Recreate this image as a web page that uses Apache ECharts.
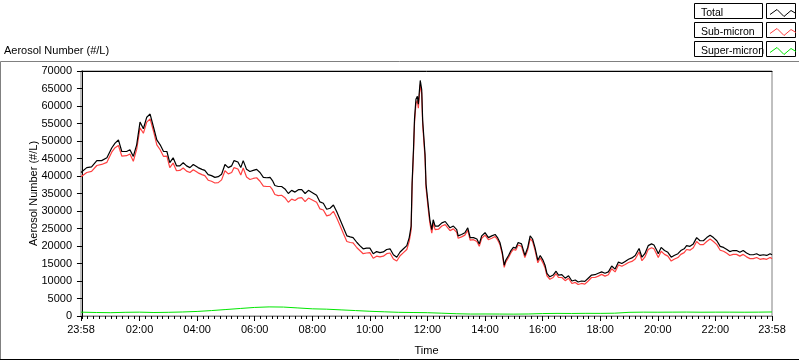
<!DOCTYPE html>
<html lang="en">
<head>
    <meta charset="UTF-8">
    <title>Aerosol Number</title>
    <script src="https://cdn.jsdelivr.net/npm/echarts@6/dist/echarts.min.js" charset="utf-8"></script>
    <style>
        html, body {margin: 0; padding: 0; background: #fff;}
        #main {width: 800px; height: 361px;}
    </style>
</head>
<body>
<div id="main"></div>
<script>
    // minutes after 00:00 (23:58 of the previous day = -2)
    var minutes = [-2, 10, 20, 31, 41, 52, 62, 69, 76, 83, 93, 100, 107, 114, 121, 128, 135, 142, 145, 150,
        156, 163, 170, 177, 183, 190, 197, 204, 211, 218, 225, 232, 242, 250, 256, 263, 270, 277, 284, 291,
        298, 305, 312, 317, 325, 331, 336, 343, 350, 357, 364, 371, 378, 385, 392, 397, 402, 409, 416, 423,
        430, 437, 444, 451, 458, 465, 472, 482, 489, 496, 503, 510, 517, 524, 531, 538, 545, 552, 559, 565,
        573, 579, 586, 593, 600, 607, 614, 621, 628, 635, 642, 649, 656, 663, 670, 677, 682, 686, 688, 691,
        693, 696, 699, 701, 703, 705, 708, 710, 713, 715, 717, 722, 725, 729, 732, 736, 743, 750, 757, 761,
        767, 774, 781, 784, 791, 798, 804, 809, 816, 823, 828, 833, 840, 847, 854, 861, 866, 871, 876, 880,
        883, 889, 894, 899, 904, 909, 916, 923, 929, 934, 939, 944, 950, 955, 961, 965, 969, 975, 982, 988,
        993, 1000, 1007, 1014, 1021, 1028, 1034, 1041, 1048, 1055, 1062, 1069, 1076, 1083, 1090, 1097, 1104, 1111, 1118, 1125,
        1132, 1139, 1146, 1153, 1157, 1161, 1167, 1173, 1180, 1187, 1192, 1198, 1201, 1207, 1214, 1221, 1228, 1234, 1242, 1248,
        1255, 1260, 1267, 1274, 1281, 1288, 1295, 1302, 1309, 1316, 1323, 1330, 1337, 1344, 1350, 1357, 1364, 1371, 1378, 1385,
        1392, 1399, 1406, 1413, 1420, 1427, 1434, 1438];

    var total = [41000, 42400, 42600, 44400, 44400, 45200, 48000, 49400, 50300, 47000, 47000, 47500, 45600, 48900, 55400, 53500, 56800, 57700, 58200, 53500,
        50300, 48900, 47000, 47000, 43800, 45200, 42900, 42900, 43800, 42900, 42400, 43300, 42400, 41900, 41600, 40400, 40100, 39600, 39800, 40500,
        43300, 42400, 42900, 44400, 44000, 42400, 44400, 41900, 41300, 41600, 41900, 41000, 39600, 39500, 39600, 38700, 37300, 37000, 37000, 36300,
        35000, 35900, 35400, 36100, 36100, 35000, 35900, 35100, 34500, 32600, 32200, 30500, 30800, 31700, 29800, 27500, 25200, 22900, 22600, 22400,
        21000, 20100, 19200, 19400, 19400, 17800, 18400, 18100, 18300, 19000, 19200, 17500, 16800, 18300, 19200, 20100, 22400, 25700, 38000, 48000,
        56300, 61900, 62800, 60500, 64000, 67300, 64700, 55900, 50000, 46100, 37700, 31200, 27500, 24700, 27500, 25700, 25700, 26600, 27000, 27500,
        25200, 25700, 24700, 22900, 23300, 23800, 25200, 22400, 22400, 22000, 20600, 22900, 23800, 22400, 22900, 23300, 22400, 21000, 18200, 14500,
        15900, 17300, 18700, 19600, 19400, 21000, 20600, 17300, 19600, 22900, 22000, 19600, 15900, 17300, 15900, 14500, 12200, 11200, 11700, 12800,
        11700, 11800, 10800, 11500, 10000, 10300, 9700, 10000, 9900, 10800, 11700, 11800, 12200, 12600, 12200, 12600, 14300, 13400, 15400, 15000,
        15600, 16200, 16600, 17300, 17800, 19300, 16800, 17800, 20100, 20600, 20300, 18700, 17800, 19600, 18700, 18200, 16800, 17300, 17800, 18700,
        19200, 20100, 19900, 20600, 22400, 21500, 21500, 22400, 23100, 22400, 21500, 19900, 19600, 19000, 18400, 18700, 18700, 18200, 18700, 18000,
        17500, 17500, 17800, 17300, 17500, 17300, 17800, 17500];

    var subMicron = [39800, 41000, 41300, 43000, 43300, 43900, 46800, 48100, 48700, 45700, 45800, 46300, 44200, 47600, 53800, 52200, 55400, 56300, 56800, 52300,
        48900, 47500, 45600, 45700, 42400, 43700, 41500, 41600, 42300, 41400, 41000, 41800, 40900, 40400, 40100, 38800, 38500, 38000, 38100, 38900,
        41500, 40600, 41000, 42400, 42000, 40300, 42300, 39700, 39000, 39300, 39500, 38500, 37100, 37000, 37000, 36100, 34700, 34400, 34500, 33800,
        32500, 33400, 33000, 33700, 33800, 32700, 33700, 33000, 32500, 30600, 30300, 28600, 28900, 29900, 28000, 25800, 23500, 21300, 21000, 20900,
        19500, 18700, 17800, 18000, 18100, 16500, 17100, 16900, 17100, 17800, 18000, 16300, 15700, 17200, 18100, 19000, 21300, 24600, 36900, 46900,
        55100, 60700, 61600, 59400, 62800, 66100, 63600, 54800, 48900, 45000, 36600, 30100, 26500, 23700, 26500, 24700, 24800, 25700, 26100, 26600,
        24400, 24900, 23900, 22200, 22600, 23100, 24500, 21700, 21800, 21300, 19900, 22200, 23100, 21800, 22200, 22700, 21800, 20400, 17600, 13900,
        15300, 16700, 18100, 19000, 18800, 20300, 19900, 16700, 18900, 22100, 21300, 18900, 15200, 16600, 15100, 13800, 11500, 10500, 11000, 12100,
        11000, 11000, 10100, 10800, 9300, 9600, 9000, 9300, 9100, 10000, 11000, 11000, 11400, 11900, 11400, 11800, 13500, 12600, 14600, 14200,
        14700, 15300, 15600, 16300, 16800, 18300, 15800, 16800, 19000, 19500, 19200, 17600, 16700, 18500, 17600, 17100, 15700, 16200, 16700, 17600,
        18100, 19000, 18800, 19500, 21300, 20400, 20400, 21300, 22000, 21300, 20400, 18800, 18500, 17900, 17300, 17600, 17600, 17100, 17600, 16900,
        16400, 16400, 16700, 16200, 16400, 16200, 16700, 16400];

    var superMinutes = [-2, 30, 60, 90, 120, 150, 180, 210, 240, 270, 300, 330, 360, 390, 420, 450, 480, 510, 540, 570,
        600, 630, 660, 690, 720, 750, 780, 810, 840, 870, 900, 930, 960, 990, 1020, 1050, 1080, 1110, 1140, 1170,
        1200, 1230, 1260, 1290, 1320, 1350, 1380, 1410, 1438];
    var superMicron = [1100, 1000, 950, 1050, 1100, 1000, 1050, 1150, 1300, 1550, 1850, 2150, 2450, 2600, 2550, 2300, 2050, 1950, 1750, 1550,
        1350, 1200, 1050, 1000, 950, 800, 650, 560, 580, 560, 540, 580, 700, 750, 720, 760, 750, 800, 1050, 1100,
        1080, 1100, 1120, 1080, 1100, 1100, 1080, 1100, 1150];

    var seriesNames = ['Total', 'Sub-micron', 'Super-micron'];
    var seriesColors = ['#000000', '#ff4040', '#00e600'];
    var majorTicks = [-2, 120, 240, 360, 480, 600, 720, 840, 960, 1080, 1200, 1320, 1438];
    var yTicks = [0, 5000, 10000, 15000, 20000, 25000, 30000, 35000, 40000, 45000, 50000, 55000, 60000, 65000, 70000];

    var font = 'Liberation Sans, Arial, sans-serif';

    function pairs(xs, ys) {
        var out = [];
        for (var i = 0; i < xs.length; i++) {
            out.push([xs[i], ys[i]]);
        }
        return out;
    }

    function clock(v) {
        var m = ((Math.round(v) % 1440) + 1440) % 1440;
        var h = Math.floor(m / 60), mm = m % 60;
        return (h < 10 ? '0' : '') + h + ':' + (mm < 10 ? '0' : '') + mm;
    }

    var minorTicks = [];
    for (var t = 0; t <= 1438; t += 12) {
        minorTicks.push(t);
    }

    var myChart = echarts.init(document.getElementById('main'));

    // legend boxes, LabVIEW style
    var boxes = [];
    for (var r = 0; r < 3; r++) {
        boxes.push({type: 'rect', shape: {x: 694.5, y: 3.5 + r * 19, width: 68, height: 15}, style: {fill: 'none', stroke: '#000', lineWidth: 1}, z: 0});
        boxes.push({type: 'rect', shape: {x: 766.5, y: 3.5 + r * 19, width: 29, height: 15}, style: {fill: 'none', stroke: '#000', lineWidth: 1}, z: 0});
    }
    // outer frame
    boxes.push({type: 'polyline', shape: {points: [[0.5, 360], [0.5, 61.5], [799, 61.5]]}, style: {stroke: '#808080', fill: 'none', lineWidth: 1}});
    boxes.push({type: 'line', shape: {x1: 0, y1: 359.5, x2: 799, y2: 359.5}, style: {stroke: '#000', lineWidth: 1}});

    var option = {
        animation: false,
        backgroundColor: '#fff',
        textStyle: {fontFamily: font},
        title: {
            text: 'Aerosol Number (#/L)',
            left: 4,
            top: 45,
            padding: 0,
            textStyle: {fontFamily: font, fontSize: 11, fontWeight: 'normal', color: '#000'}
        },
        legend: {
            orient: 'vertical',
            left: 696,
            top: 2,
            align: 'right',
            itemWidth: 26,
            itemHeight: 12,
            itemGap: 7,
            icon: 'path://M0,7L7,2L14,9L21,3L26,6',
            formatter: function (name) { return '{n|' + name + '}'; },
            textStyle: {
                fontFamily: font, fontSize: 11, color: '#000', lineHeight: 12,
                rich: {n: {width: 64, align: 'left', fontFamily: font, fontSize: 10.5, color: '#000'}}
            },
            data: seriesNames.map(function (n, i) {
                return {name: n, itemStyle: {color: 'none', borderColor: seriesColors[i], borderWidth: 1}};
            })
        },
        graphic: boxes,
        grid: {
            left: 81,
            top: 71,
            right: 28,
            bottom: 39,
            show: true,
            borderColor: '#808080',
            borderWidth: 1,
            backgroundColor: '#fff'
        },
        xAxis: [{
            type: 'value',
            min: -2,
            max: 1438,
            position: 'bottom',
            axisLine: {lineStyle: {color: '#808080', width: 1}},
            axisTick: {customValues: minorTicks, length: 3, lineStyle: {color: '#000'}},
            axisLabel: {show: false},
            splitLine: {show: false}
        }, {
            type: 'value',
            min: -2,
            max: 1438,
            position: 'bottom',
            name: 'Time',
            nameLocation: 'middle',
            nameGap: 29,
            nameMoveOverlap: false,
            nameTextStyle: {fontFamily: font, fontSize: 11, color: '#000'},
            axisLine: {show: false},
            axisTick: {customValues: majorTicks, length: 5, lineStyle: {color: '#000'}},
            axisLabel: {
                customValues: majorTicks,
                margin: 8,
                fontFamily: font,
                fontSize: 11,
                color: '#000',
                formatter: clock
            },
            splitLine: {show: false}
        }, {
            type: 'value',
            min: -2,
            max: 1438,
            position: 'top',
            axisLine: {lineStyle: {color: '#000', width: 1}},
            axisTick: {show: false},
            axisLabel: {show: false},
            splitLine: {show: false}
        }],
        yAxis: {
            type: 'value',
            min: 0,
            max: 70000,
            interval: 5000,
            name: 'Aerosol Number (#/L)',
            nameLocation: 'middle',
            nameGap: 42,
            nameMoveOverlap: false,
            nameTextStyle: {fontFamily: font, fontSize: 11, color: '#000'},
            axisLine: {show: true, lineStyle: {color: '#000', width: 1}},
            axisTick: {show: true, length: 5, customValues: yTicks, lineStyle: {color: '#000'}},
            axisLabel: {
                fontFamily: font, fontSize: 11, color: '#000', margin: 9,
                formatter: function (v) { return String(v); }
            },
            splitLine: {show: false}
        },
        series: [{
            name: seriesNames[0],
            type: 'line',
            xAxisIndex: 0,
            data: pairs(minutes, total),
            showSymbol: false,
            z: 4,
            lineStyle: {color: seriesColors[0], width: 1.2},
            itemStyle: {color: seriesColors[0]}
        }, {
            name: seriesNames[1],
            type: 'line',
            xAxisIndex: 0,
            data: pairs(minutes, subMicron),
            showSymbol: false,
            z: 3,
            lineStyle: {color: seriesColors[1], width: 1.2},
            itemStyle: {color: seriesColors[1]}
        }, {
            name: seriesNames[2],
            type: 'line',
            xAxisIndex: 0,
            data: pairs(superMinutes, superMicron),
            showSymbol: false,
            z: 3,
            lineStyle: {color: seriesColors[2], width: 1},
            itemStyle: {color: seriesColors[2]}
        }]
    };

    myChart.setOption(option);
    window.addEventListener("resize", function () {
        myChart.resize();
    });
</script>
</body>
</html>
